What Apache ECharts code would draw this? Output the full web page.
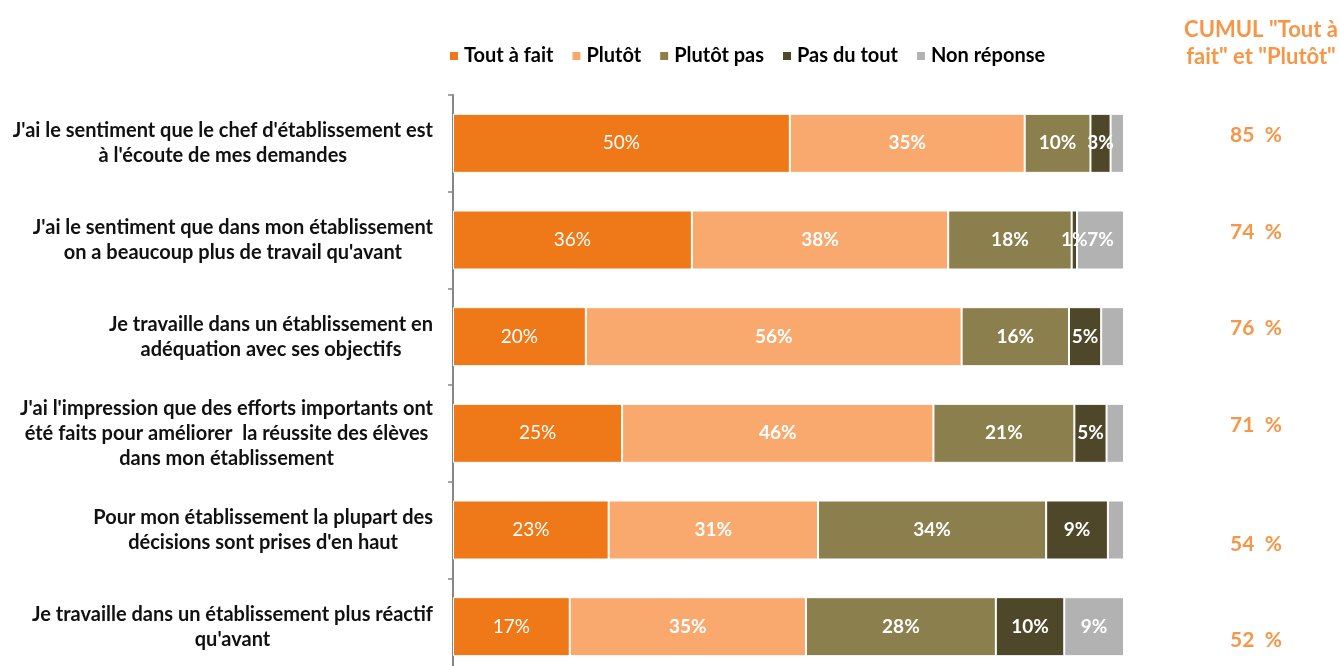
<!DOCTYPE html>
<html><head><meta charset="utf-8">
<script src="https://cdn.jsdelivr.net/npm/echarts@6/dist/echarts.min.js"></script>
<style>html,body{margin:0;padding:0;background:#fff}#c{width:1340px;height:666px}</style>
</head><body><div id="c"></div>
<script>
const categories = [
  "J'ai le sentiment que le chef d'établissement est\nà l'écoute de mes demandes",
  "J'ai le sentiment que dans mon établissement\non a beaucoup plus de travail qu'avant",
  "Je travaille dans un établissement en\nadéquation avec ses objectifs",
  "J'ai l'impression que des efforts importants ont\nété faits pour améliorer  la réussite des élèves\ndans mon établissement",
  "Pour mon établissement la plupart des\ndécisions sont prises d'en haut",
  "Je travaille dans un établissement plus réactif\nqu'avant"
];
const seriesNames = ["Tout à fait", "Plutôt", "Plutôt pas", "Pas du tout", "Non réponse"];
const toutAFait  = [50.2, 35.6, 19.8, 25.2, 23.2, 17.4];
const plutot     = [35.0, 38.2, 56.0, 46.4, 31.2, 35.2];
const plutotPas  = [9.8, 18.4, 16.0, 21.0, 34.0, 28.3];
const pasDuTout  = [3.0, 0.8, 4.8, 4.8, 9.2, 10.2];
const nonReponse = [2.0, 7.0, 3.4, 2.6, 2.4, 8.9];
const cumul = [85, 74, 76, 71, 54, 52];
const cumulTitle = 'CUMUL "Tout à\nfait" et "Plutôt"';

const colors = ['#EF7918', '#F9A96E', '#8B7F4D', '#4F4729', '#B2B2B2'];
const FONT = 'Lato';
const values = [toutAFait, plutot, plutotPas, pasDuTout, nonReponse];

const chart = echarts.init(document.getElementById('c'), null, {renderer: 'canvas'});

const series = seriesNames.map((name, i) => ({
  name: name,
  type: 'bar',
  stack: 'total',
  barWidth: 59,
  data: values[i],
  itemStyle: {color: colors[i], borderColor: '#ffffff', borderWidth: 1},
  label: {
    show: true,
    position: 'inside',
    color: '#ffffff',
    fontFamily: FONT,
    fontSize: 19,
    fontWeight: i === 0 ? 'normal' : 'bold',
    formatter: p => (i === 4 && p.value < 5) ? '' : Math.round(p.value) + '%'
  },
  emphasis: {disabled: true}
}));

chart.setOption({
  animation: false,
  color: colors,
  title: {
    text: cumulTitle,
    left: 1256,
    top: 11,
    textAlign: 'center',
    textStyle: {color: '#F79646', fontFamily: FONT, fontSize: 22, fontWeight: 'bold', lineHeight: 27}
  },
  legend: {
    data: seriesNames,
    left: 443,
    top: 41,
    icon: 'rect',
    itemWidth: 10,
    itemHeight: 10,
    itemGap: 17,
    textStyle: {color: '#000000', fontFamily: FONT, fontSize: 20, fontWeight: 'bold'}
  },
  grid: {left: 453, right: 216, top: 95, height: 580, containLabel: false, outerBoundsMode: 'none'},
  xAxis: {
    type: 'value', min: 0, max: 100,
    show: false
  },
  yAxis: [{
    type: 'category',
    data: categories,
    inverse: true,
    axisLine: {show: true, lineStyle: {color: '#868686', width: 2}},
    axisTick: {show: true, length: 5, lineStyle: {color: '#868686', width: 1.5}},
    axisLabel: {
      margin: 20,
      formatter: v => v.split('\n').map(l => '{c|' + l + '}').join('\n'),
      rich: {
        c: {align: 'center', color: '#111111', fontFamily: FONT, fontSize: 20, fontWeight: 'bold', lineHeight: 25}
      }
    }
  }, {
    type: 'category',
    data: categories,
    inverse: true,
    position: 'right',
    axisLine: {show: false},
    axisTick: {show: false},
    axisLabel: {
      margin: 132,
      align: 'center',
      formatter: (v, idx) => (idx < 4 ? '{u|' : '{d|') + cumul[idx] + '  %}',
      rich: {
        u: {color: '#F79646', fontFamily: FONT, fontSize: 21, fontWeight: 'bold', padding: [0, 0, 16, 0]},
        d: {color: '#F79646', fontFamily: FONT, fontSize: 21, fontWeight: 'bold', padding: [28, 0, 0, 0]}
      }
    }
  }],
  series: series
});
</script>
</body></html>
